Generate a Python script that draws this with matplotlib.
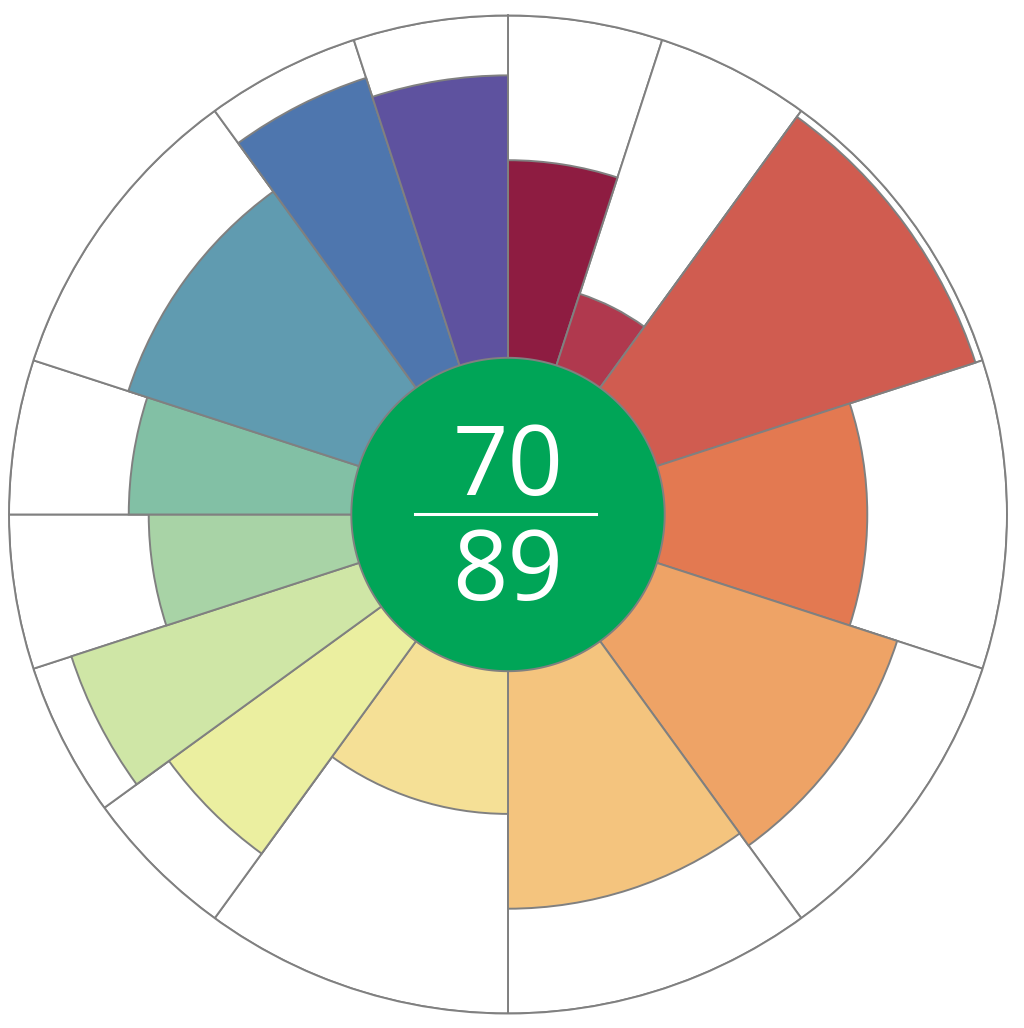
"""
Aster-style polar area chart with a score badge in the middle.
"""

import numpy as np
import matplotlib.pyplot as plt

# segment widths (relative) and radial values (0-100 scale), clockwise from top
weights = [1, 1, 2, 2, 2, 2, 2, 1, 1, 1, 1, 2, 1, 1]
values = [71, 46.5, 98.5, 72, 82, 79, 60, 84, 92, 72, 76, 80, 92, 88]
colors = ["#8E1C41", "#B0394E", "#D05C50", "#E37951", "#EEA366", "#F4C47E",
          "#F5E096", "#EBEFA0", "#CFE6A6", "#A8D3A6", "#82C0A5", "#609BB0",
          "#4E76AE", "#5E529F"]
score = "70"
total = "89"

EDGE = "#808080"
CENTER_COLOR = "#00A557"
MAX_VALUE = 100
HOLE = 31.4

fig = plt.figure(figsize=(10.24, 10.28), dpi=100)
ax = fig.add_axes([9 / 1024, 14.5 / 1028, 998 / 1024, 998 / 1028], projection="polar")
ax.set_theta_zero_location("N")
ax.set_theta_direction(-1)

w = np.array(weights, dtype=float)
widths = w / w.sum() * 2 * np.pi
starts = np.concatenate([[0], np.cumsum(widths)[:-1]])

# white background wedges up to the max value
ax.bar(starts, [MAX_VALUE] * len(starts), width=widths, align="edge",
       color="white", edgecolor=EDGE, linewidth=1.4, zorder=1)
# coloured value wedges
ax.bar(starts, values, width=widths, align="edge",
       color=colors, edgecolor=EDGE, linewidth=1.4, zorder=2)

# centre disc
th = np.linspace(0, 2 * np.pi, 400)
ax.fill(th, np.full_like(th, HOLE), color=CENTER_COLOR, edgecolor=EDGE,
        linewidth=1.4, zorder=3)

ax.set_ylim(0, MAX_VALUE)
ax.grid(False)
ax.set_xticks([])
ax.set_yticks([])
ax.spines["polar"].set_color(EDGE)
ax.spines["polar"].set_linewidth(1.4)

# fraction text
ax.text(0.5, 0.5195, score, transform=ax.transAxes, ha="center", va="baseline",
        color="white", fontsize=70, family=["Open Sans", "DejaVu Sans"], zorder=4)
ax.text(0.5, 0.4143, total, transform=ax.transAxes, ha="center", va="baseline",
        color="white", fontsize=70, family=["Open Sans", "DejaVu Sans"], zorder=4)
ax.plot([0.4068, 0.588], [0.5005, 0.5005], transform=ax.transAxes,
        color="white", linewidth=2.2, zorder=4)

fig.savefig("out.png", dpi=100, facecolor="white")
